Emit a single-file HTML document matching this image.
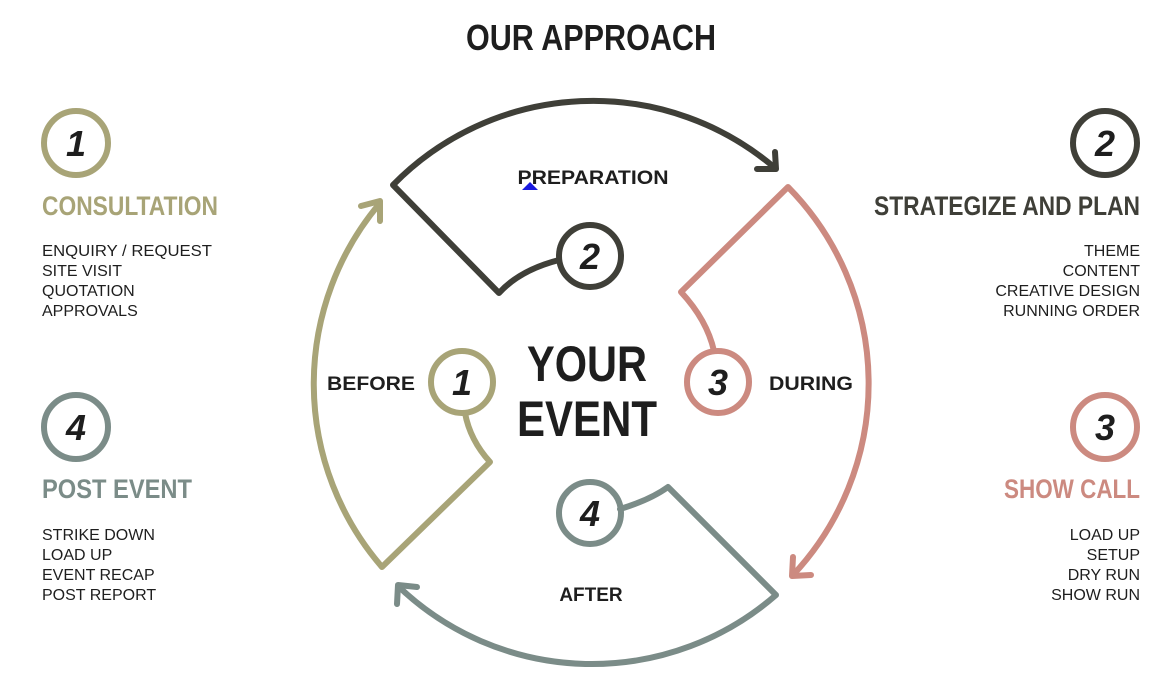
<!DOCTYPE html>
<html><head><meta charset="utf-8"><style>
html,body{margin:0;padding:0;background:#fff;}
svg{display:block}
text{font-family:"Liberation Sans",sans-serif;}
.h{font-family:"Liberation Sans Narrow","Liberation Sans",sans-serif;font-weight:bold;}
.li{font-size:16px;fill:#1e1e1e;}
.num{font-size:36px;font-weight:bold;font-style:italic;fill:#1e1e1e;}
.lab{font-size:19px;font-weight:bold;fill:#1e1e1e;}
</style></head><body>
<svg width="1163" height="677" viewBox="0 0 1163 677" xmlns="http://www.w3.org/2000/svg">
<text x="591" y="50" class="h" font-size="36" text-anchor="middle" fill="#1e1e1e" textLength="250" lengthAdjust="spacingAndGlyphs">OUR APPROACH</text>

<circle cx="76" cy="143" r="32" fill="none" stroke="#a8a477" stroke-width="6"/>
<text x="76" y="156" class="num" text-anchor="middle">1</text>
<text x="42" y="215" class="h" font-size="27" fill="#a8a477" textLength="176" lengthAdjust="spacingAndGlyphs">CONSULTATION</text>
<text x="42" y="256" class="li" textLength="170" lengthAdjust="spacingAndGlyphs">ENQUIRY / REQUEST</text>
<text x="42" y="276" class="li">SITE VISIT</text>
<text x="42" y="296" class="li">QUOTATION</text>
<text x="42" y="316" class="li">APPROVALS</text>

<circle cx="76" cy="427" r="32" fill="none" stroke="#7b8c88" stroke-width="6"/>
<text x="76" y="440" class="num" text-anchor="middle">4</text>
<text x="42" y="498" class="h" font-size="27" fill="#7b8c88" textLength="150" lengthAdjust="spacingAndGlyphs">POST EVENT</text>
<text x="42" y="540" class="li">STRIKE DOWN</text>
<text x="42" y="560" class="li">LOAD UP</text>
<text x="42" y="580" class="li">EVENT RECAP</text>
<text x="42" y="600" class="li">POST REPORT</text>

<circle cx="1105" cy="143" r="32" fill="none" stroke="#3f3f38" stroke-width="6"/>
<text x="1105" y="156" class="num" text-anchor="middle">2</text>
<text x="1140" y="215" class="h" font-size="27" fill="#3f3f38" text-anchor="end" textLength="266" lengthAdjust="spacingAndGlyphs">STRATEGIZE AND PLAN</text>
<text x="1140" y="256" class="li" text-anchor="end">THEME</text>
<text x="1140" y="276" class="li" text-anchor="end">CONTENT</text>
<text x="1140" y="296" class="li" text-anchor="end">CREATIVE DESIGN</text>
<text x="1140" y="316" class="li" text-anchor="end">RUNNING ORDER</text>

<circle cx="1105" cy="427" r="32" fill="none" stroke="#cc8a80" stroke-width="6"/>
<text x="1105" y="440" class="num" text-anchor="middle">3</text>
<text x="1140" y="498" class="h" font-size="27" fill="#cc8a80" text-anchor="end" textLength="136" lengthAdjust="spacingAndGlyphs">SHOW CALL</text>
<text x="1140" y="540" class="li" text-anchor="end">LOAD UP</text>
<text x="1140" y="560" class="li" text-anchor="end">SETUP</text>
<text x="1140" y="580" class="li" text-anchor="end">DRY RUN</text>
<text x="1140" y="600" class="li" text-anchor="end">SHOW RUN</text>

<g fill="none" stroke-width="6" stroke-linecap="round" stroke-linejoin="round">
<path d="M775 168 A280 280 0 0 0 393 185 L499 293 Q520 270 559 260" stroke="#3f3f38"/>
<path d="M775 152 L776 169 L757 169" stroke="#3f3f38"/>
<circle cx="590" cy="256" r="31" stroke="#3f3f38"/>
<path d="M793 575 A280 280 0 0 0 788 187 L681 292 Q707 320 714 351" stroke="#cc8a80"/>
<path d="M793 557 L792 576 L811 575" stroke="#cc8a80"/>
<circle cx="718" cy="382" r="31" stroke="#cc8a80"/>
<path d="M380 203 A280 280 0 0 0 382 567 L490 462 Q470 440 465 413" stroke="#a8a477"/>
<path d="M361 206 L380 201 L380 221" stroke="#a8a477"/>
<circle cx="462" cy="382" r="31" stroke="#a8a477"/>
<path d="M398 586 A280 280 0 0 0 776 595 L668 487 Q650 500 620 509" stroke="#7b8c88"/>
<path d="M397 604 L398 585 L417 587" stroke="#7b8c88"/>
<circle cx="590" cy="513" r="31" stroke="#7b8c88"/>
</g>

<text x="590" y="269" class="num" text-anchor="middle">2</text>
<text x="718" y="395" class="num" text-anchor="middle">3</text>
<text x="462" y="395" class="num" text-anchor="middle">1</text>
<text x="590" y="526" class="num" text-anchor="middle">4</text>

<text x="593" y="184" class="lab" text-anchor="middle" textLength="151" lengthAdjust="spacingAndGlyphs">PREPARATION</text>
<path d="M522 190 L530 182 L538 190 Z" fill="#1a1ae0"/>
<text x="371" y="390" class="lab" text-anchor="middle" textLength="88" lengthAdjust="spacingAndGlyphs">BEFORE</text>
<text x="811" y="390" class="lab" text-anchor="middle" textLength="84" lengthAdjust="spacingAndGlyphs">DURING</text>
<text x="591" y="601" class="lab" text-anchor="middle">AFTER</text>

<text x="587" y="381" class="h" font-size="50" text-anchor="middle" fill="#1e1e1e" textLength="120" lengthAdjust="spacingAndGlyphs">YOUR</text>
<text x="587" y="436" class="h" font-size="50" text-anchor="middle" fill="#1e1e1e" textLength="140" lengthAdjust="spacingAndGlyphs">EVENT</text>
</svg>
</body></html>
